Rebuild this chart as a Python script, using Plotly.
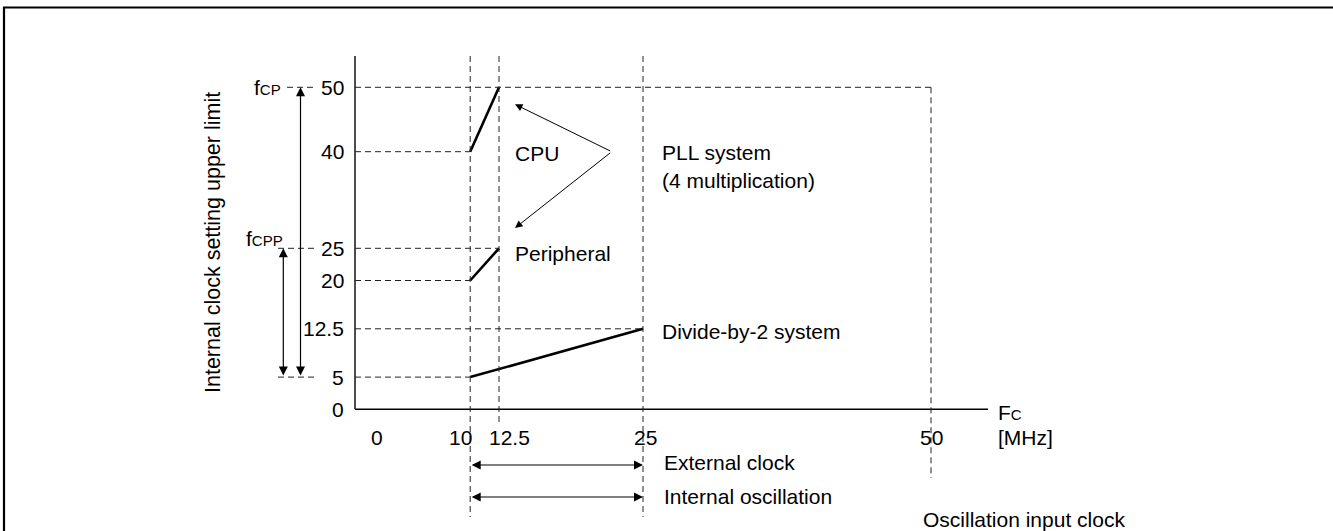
import plotly.graph_objects as go

# ---------------- data ----------------
cpu_fc = [10, 12.5]
cpu_f = [40, 50]
per_fc = [10, 12.5]
per_f = [20, 25]
div_fc = [10, 25]
div_f = [5, 12.5]

x_tick_vals = [0, 10, 12.5, 25, 50]
x_tick_text = ["0", "10", "12.5", "25", "50"]
y_tick_vals = [0, 5, 12.5, 20, 25, 40, 50]
y_tick_text = ["0", "5", "12.5", "20", "25", "40", "50"]

# guide lines: (level, x extent)
h_guides_y = [50, 40, 25, 20, 12.5, 5]
h_guides_xend = [50, 10, 12.5, 10, 25, 10]

fc_range = [10, 25]          # external clock / internal oscillation range
fcp_range = [5, 50]
fcpp_range = [5, 25]

# ---------------- layout geometry ----------------
W, H = 1333, 531
PX_X0, PX_Y0 = 355.0, 409.3      # pixel of data origin
SX, SY = 11.52, 6.44             # px per unit

def dx(px):
    return (px - PX_X0) / SX

def dy(py):
    return (PX_Y0 - py) / SY

x_range = [dx(0), dx(W)]
y_range = [dy(H), dy(0)]
x_axis_end = dx(988)
y_axis_end = dy(56)
v_bottom_long = dy(517)
v_bottom_short = dy(423)
v_bottom_50 = dy(478)

FONT = "Liberation Sans, Arial, sans-serif"
FS = 21
dash = "6px,4px"
gcol = "#222222"

fig = go.Figure()

# solid data lines
for xs, ys in [(cpu_fc, cpu_f), (per_fc, per_f), (div_fc, div_f)]:
    fig.add_trace(go.Scatter(x=xs, y=ys, mode="lines",
                             line=dict(color="black", width=2.6),
                             hoverinfo="skip", showlegend=False))

shapes = []
# axes
shapes.append(dict(type="line", xref="x", yref="y", x0=0, y0=0, x1=x_axis_end, y1=0,
                   line=dict(color="black", width=1.4)))
shapes.append(dict(type="line", xref="x", yref="y", x0=0, y0=0, x1=0, y1=y_axis_end,
                   line=dict(color="black", width=1.4)))
# horizontal guides
for yv, xe in zip(h_guides_y, h_guides_xend):
    shapes.append(dict(type="line", xref="x", yref="y", x0=0, y0=yv, x1=xe, y1=yv,
                       line=dict(color=gcol, width=1, dash=dash)))
# left short dashes near fCP / fCPP
shapes.append(dict(type="line", xref="x", yref="y", x0=dx(287), y0=fcp_range[1], x1=dx(317), y1=fcp_range[1],
                   line=dict(color=gcol, width=1, dash=dash)))
for yv in [fcpp_range[1], fcpp_range[0]]:
    shapes.append(dict(type="line", xref="x", yref="y", x0=dx(278), y0=yv, x1=dx(316), y1=yv,
                       line=dict(color=gcol, width=1, dash=dash)))
# vertical guides
shapes.append(dict(type="line", xref="x", yref="y", x0=10, y0=y_axis_end, x1=10, y1=v_bottom_long,
                   line=dict(color=gcol, width=1, dash=dash)))
shapes.append(dict(type="line", xref="x", yref="y", x0=12.5, y0=y_axis_end, x1=12.5, y1=v_bottom_short,
                   line=dict(color=gcol, width=1, dash=dash)))
shapes.append(dict(type="line", xref="x", yref="y", x0=25, y0=y_axis_end, x1=25, y1=v_bottom_long,
                   line=dict(color=gcol, width=1, dash=dash)))
shapes.append(dict(type="line", xref="x", yref="y", x0=50, y0=50, x1=50, y1=v_bottom_50,
                   line=dict(color=gcol, width=1, dash=dash)))
# border (only top and left visible)
shapes.append(dict(type="rect", xref="paper", yref="paper",
                   x0=4 / W, y0=-0.05, x1=1.05, y1=1 - 7.5 / H,
                   line=dict(color="black", width=2.2), fillcolor="rgba(0,0,0,0)"))

ann = []
def text(x, y, t, xanchor="left", yanchor="middle", size=FS, **kw):
    d = dict(x=x, y=y, xref="x", yref="y", text=t, showarrow=False,
             xanchor=xanchor, yanchor=yanchor,
             font=dict(family=FONT, size=size, color="black"))
    d.update(kw)
    ann.append(d)

# y tick labels
for v, t in zip(y_tick_vals, y_tick_text):
    text(dx(346), v, t, xanchor="right")
# x tick labels
x_shift = {0: 22, 10: -10, 12.5: 10, 25: 2, 50: 0}
for v, t in zip(x_tick_vals, x_tick_text):
    text(v, dy(437), t, xanchor="center", xshift=x_shift[v])

small = "font-size:15px"
text(dx(252), 50, f"f<span style='{small}'>CP</span>")
text(dx(244), dy(238), f"f<span style='{small}'>CPP</span>")
text(dx(513), dy(153), "CPU")
text(dx(660), dy(152), "PLL system")
text(dx(660), dy(180), "(4 multiplication)")
text(dx(513), dy(253), "Peripheral")
text(dx(660), dy(331), "Divide-by-2 system")
text(dx(662), dy(462), "External clock")
text(dx(662), dy(496), "Internal oscillation")
text(dx(996), dy(412), f"F<span style='{small}'>C</span>")
text(dx(996), dy(437), "[MHz]")
text(dx(921), dy(519), "Oscillation input clock")
text(dx(213), dy(243), "Internal clock setting upper limit", xanchor="center", textangle=-90, size=21.5)

def arrow(x0, y0, x1, y1, both=False, width=1.2):
    ann.append(dict(x=x1, y=y1, ax=x0, ay=y0, xref="x", yref="y", axref="x", ayref="y",
                    text="", showarrow=True, arrowhead=2, arrowsize=1.5, arrowwidth=width,
                    arrowcolor="black", arrowside="end+start" if both else "end",
                    startarrowhead=2, startarrowsize=1.5, standoff=0, startstandoff=0))

# fCP and fCPP double arrows
arrow(dx(300.5), fcp_range[0], dx(300.5), fcp_range[1], both=True)
arrow(dx(283.3), fcpp_range[0], dx(283.3), fcpp_range[1], both=True)
# external clock / internal oscillation ranges
arrow(fc_range[0], dy(465), fc_range[1], dy(465), both=True)
arrow(fc_range[0], dy(497), fc_range[1], dy(497), both=True)
# CPU / peripheral pointer arrows
arrow(dx(611.7), dy(151.7), dx(515), dy(104.3), width=1)
arrow(dx(611.7), dy(151.7), dx(515), dy(228), width=1)

fig.update_layout(
    width=W, height=H,
    margin=dict(l=0, r=0, t=0, b=0),
    paper_bgcolor="white", plot_bgcolor="white",
    xaxis=dict(range=x_range, visible=False, fixedrange=True),
    yaxis=dict(range=y_range, visible=False, fixedrange=True),
    shapes=shapes, annotations=ann, showlegend=False,
    font=dict(family=FONT),
)

fig.write_html("out.html", config={"displayModeBar": False},
               post_script="document.body.style.margin='0';document.body.style.overflow='hidden';")
